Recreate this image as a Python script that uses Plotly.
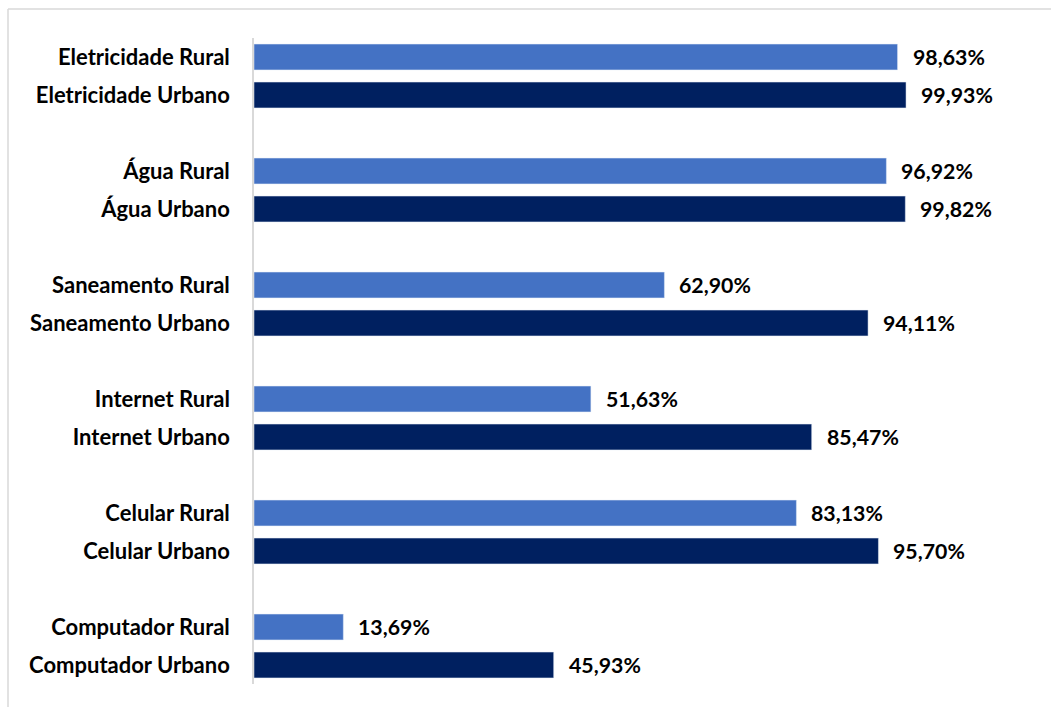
import plotly.graph_objects as go

groups = ["Eletricidade", "Água", "Saneamento", "Internet", "Celular", "Computador"]
rural = [98.63, 96.92, 62.90, 51.63, 83.13, 13.69]
urbano = [99.93, 99.82, 94.11, 85.47, 95.70, 45.93]

C_RURAL = "#4472C4"
C_URB = "#002060"

W, H = 1051, 707
L, R, T, B = 254, 14, 38, 23

rural_pos = [3 * i for i in range(len(groups))]
urb_pos = [3 * i + 1 for i in range(len(groups))]

fig = go.Figure()
fig.add_trace(go.Bar(y=rural_pos, x=rural, orientation="h", marker_color=C_RURAL,
                     width=0.68, name="Rural"))
fig.add_trace(go.Bar(y=urb_pos, x=urbano, orientation="h", marker_color=C_URB,
                     width=0.68, name="Urbano"))

def fmt(v):
    return f"{v:.2f}".replace(".", ",") + "%"

font = dict(family="Lato, 'Open Sans', sans-serif", size=21.3, color="#000000")
tfont = dict(family="Lato, 'Open Sans', sans-serif", size=22, color="#000000")
ann = []
for p, v in zip(rural_pos + urb_pos, rural + urbano):
    ann.append(dict(x=v, y=p, xref="x", yref="y", text="<b>" + fmt(v) + "</b>",
                    showarrow=False, xanchor="left", yanchor="middle", xshift=13,
                    font=font))

tickvals = []
ticktext = []
for g, rp, up in zip(groups, rural_pos, urb_pos):
    tickvals += [rp, up]
    ticktext += [f"<b>{g} Rural</b>", f"<b>{g} Urbano</b>"]

pw = W - L - R
ph = H - T - B
bx0 = (8 - L) / pw
by1 = (H - B - 9) / ph

fig.update_layout(
    width=W, height=H,
    margin=dict(l=L, r=R, t=T, b=B),
    paper_bgcolor="white", plot_bgcolor="white",
    showlegend=False,
    barmode="overlay",
    annotations=ann,
    shapes=[
        dict(type="line", xref="paper", yref="paper", x0=bx0, x1=bx0, y0=by1, y1=-0.2,
             line=dict(color="#d9d9d9", width=1.5)),
        dict(type="line", xref="paper", yref="paper", x0=bx0, x1=1.2, y0=by1, y1=by1,
             line=dict(color="#d9d9d9", width=1.5)),
    ],
    xaxis=dict(range=[0, (W - L - R) / 6.525], showgrid=False, zeroline=False,
               showticklabels=False, showline=False),
    yaxis=dict(range=[16.5, -0.5], tickvals=tickvals, ticktext=ticktext,
               showgrid=False, zeroline=False, showline=True, linecolor="#d9d9d9",
               linewidth=1.5, ticks="", ticklabelstandoff=18, tickfont=tfont),
)

fig.write_html("out.html")
